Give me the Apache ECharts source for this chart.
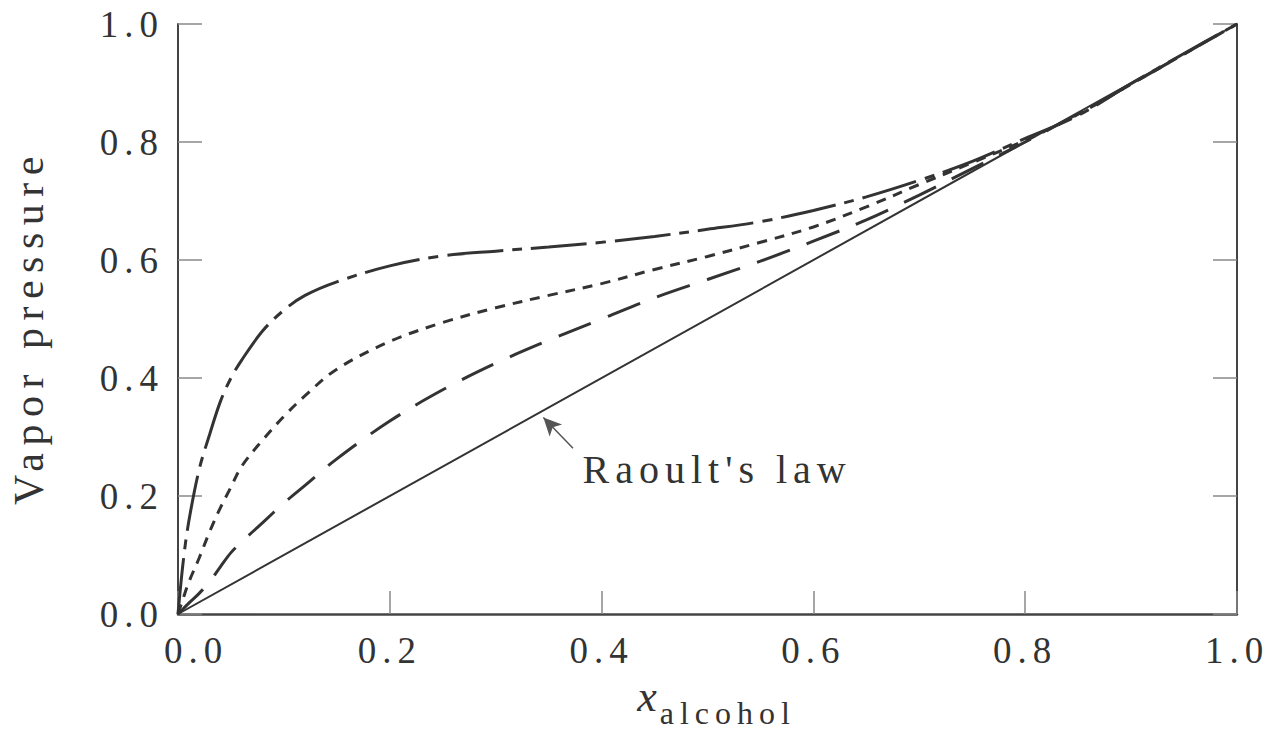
<!DOCTYPE html>
<html>
<head>
	<meta charset="utf-8" />
	<title>Vapor pressure</title>
	<script src="https://cdn.jsdelivr.net/npm/echarts@6/dist/echarts.min.js"></script>
	<style>
		html, body { margin: 0; padding: 0; background: #fff; }
		#chartmain { width: 1270px; height: 732px; }
		/* the figure uses wide letter spacing on every text */
		#chartmain text { letter-spacing: 6px; }
		#chartmain text[style*="42px"] { letter-spacing: 7.5px; }
	</style>
</head>
<body>
	<div id="chartmain"></div>
<script type="text/javascript">
	// mole fraction of alcohol
	var xs = [0, 0.005, 0.01, 0.02, 0.03, 0.04, 0.05, 0.06, 0.08, 0.1, 0.12, 0.15, 0.2, 0.25, 0.3, 0.35, 0.4, 0.45, 0.5, 0.55, 0.6, 0.65, 0.7, 0.75, 0.8, 0.85, 0.9, 0.95, 1.0];
	// vapor pressure curves
	var dashDot = [0, 0.09, 0.155, 0.245, 0.305, 0.36, 0.40, 0.43, 0.48, 0.515, 0.54, 0.563, 0.59, 0.607, 0.615, 0.622, 0.63, 0.64, 0.652, 0.665, 0.684, 0.707, 0.735, 0.767, 0.806, 0.845, 0.899, 0.95, 1.0];
	var dotted = [0, 0.027, 0.053, 0.095, 0.14, 0.18, 0.215, 0.25, 0.295, 0.335, 0.37, 0.415, 0.462, 0.494, 0.519, 0.54, 0.56, 0.584, 0.606, 0.63, 0.656, 0.69, 0.728, 0.765, 0.803, 0.847, 0.898, 0.949, 1.0];
	var longDash = [0, 0.009, 0.018, 0.035, 0.055, 0.08, 0.104, 0.122, 0.155, 0.188, 0.218, 0.263, 0.327, 0.38, 0.425, 0.464, 0.5, 0.536, 0.567, 0.598, 0.632, 0.668, 0.71, 0.755, 0.8, 0.848, 0.898, 0.949, 1.0];
	var raoultX = [0, 1];
	var raoultY = [0, 1];
	var ticks = [0, 0.2, 0.4, 0.6, 0.8, 1.0];

	// annotation (data coords)
	var arrowFrom = [0.373, 0.281];
	var arrowTo = [0.345, 0.333];
	var labelAt = [0.382, 0.245];
	var labelText = "Raoult's law";

	var font = "'Liberation Serif', 'Times New Roman', serif";
	var ink = '#333';

	function pairs(x, y) {
		return x.map(function (v, i) { return [v, y[i]]; });
	}

	function curve(name, data, dash, width) {
		return {
			name: name,
			type: 'line',
			data: data,
			showSymbol: false,
			smooth: 0.35,
			lineStyle: { color: ink, width: width, type: dash },
			z: 3
		};
	}

	var myChart = echarts.init(document.getElementById('chartmain'), null, { renderer: 'svg' });

	var option = {
		animation: false,
		grid: { left: 178, right: 33, top: 24, bottom: 118, outerBoundsMode: 'none' },
		xAxis: {
			type: 'value',
			min: ticks[0],
			max: ticks[ticks.length - 1],
			interval: 0.2,
			name: '{x|x}{sub|alcohol}',
			nameLocation: 'middle',
			nameGap: 49,
			nameTextStyle: {
				rich: {
					x: { fontFamily: font, fontStyle: 'italic', fontSize: 44, color: ink },
					sub: { fontFamily: font, fontSize: 32, color: ink, padding: [34, 0, 0, 21] }
				}
			},
			axisLine: { lineStyle: { color: '#444', width: 2.5 } },
			axisTick: { inside: true, length: 23, lineStyle: { color: '#888', width: 1.5 } },
			splitLine: { show: false },
			axisLabel: {
				margin: 18,
				fontFamily: font,
				fontSize: 37,
				color: ink,
				formatter: function (v) {
					return v === 0 ? '{first|0.0}' : v.toFixed(1);
				},
				rich: {
					first: { fontFamily: font, fontSize: 37, color: ink, padding: [0, 0, 0, 36] }
				}
			}
		},
		yAxis: [
			{
				type: 'value',
				min: ticks[0],
				max: ticks[ticks.length - 1],
				interval: 0.2,
				name: 'Vapor pressure',
				nameLocation: 'middle',
				nameGap: 128,
				nameTextStyle: { fontFamily: font, fontSize: 42, color: ink, padding: [0, 16, 0, 0] },
				axisLine: { show: true, lineStyle: { color: '#444', width: 2 } },
				axisTick: { show: true, inside: true, length: 24, lineStyle: { color: '#888', width: 1.5 } },
				splitLine: { show: false },
				axisLabel: {
					margin: 14,
					fontFamily: font,
					fontSize: 37,
					color: ink,
					formatter: function (v) { return v.toFixed(1); }
				}
			},
			{
				type: 'value',
				position: 'right',
				min: ticks[0],
				max: ticks[ticks.length - 1],
				interval: 0.2,
				axisLine: { show: true, lineStyle: { color: '#444', width: 2 } },
				axisTick: { show: true, inside: true, length: 24, lineStyle: { color: '#888', width: 1.5 } },
				axisLabel: { show: false },
				splitLine: { show: false }
			}
		],
		series: [
			curve('dash-dot', pairs(xs, dashDot), [56, 9, 10, 9], 3),
			curve('dotted', pairs(xs, dotted), [10, 8], 3),
			curve('long dash', pairs(xs, longDash), [35, 18], 3),
			{
				name: labelText,
				type: 'line',
				data: pairs(raoultX, raoultY),
				showSymbol: false,
				lineStyle: { color: ink, width: 2 },
				z: 3,
				markLine: {
					silent: true,
					symbol: ['none', 'arrow'],
					symbolSize: [13, 18],
					label: { show: false },
					lineStyle: { type: 'solid', color: '#555', width: 1.5 },
					data: [[{ coord: arrowFrom }, { coord: arrowTo }]]
				},
				markPoint: {
					silent: true,
					symbol: 'circle',
					symbolSize: 0,
					label: {
						show: true,
						position: 'right',
						distance: 0,
						fontFamily: font,
						fontSize: 40,
						color: ink,
						formatter: labelText
					},
					data: [{ coord: labelAt }]
				}
			}
		]
	};
	myChart.setOption(option);
</script>
</body>
</html>
